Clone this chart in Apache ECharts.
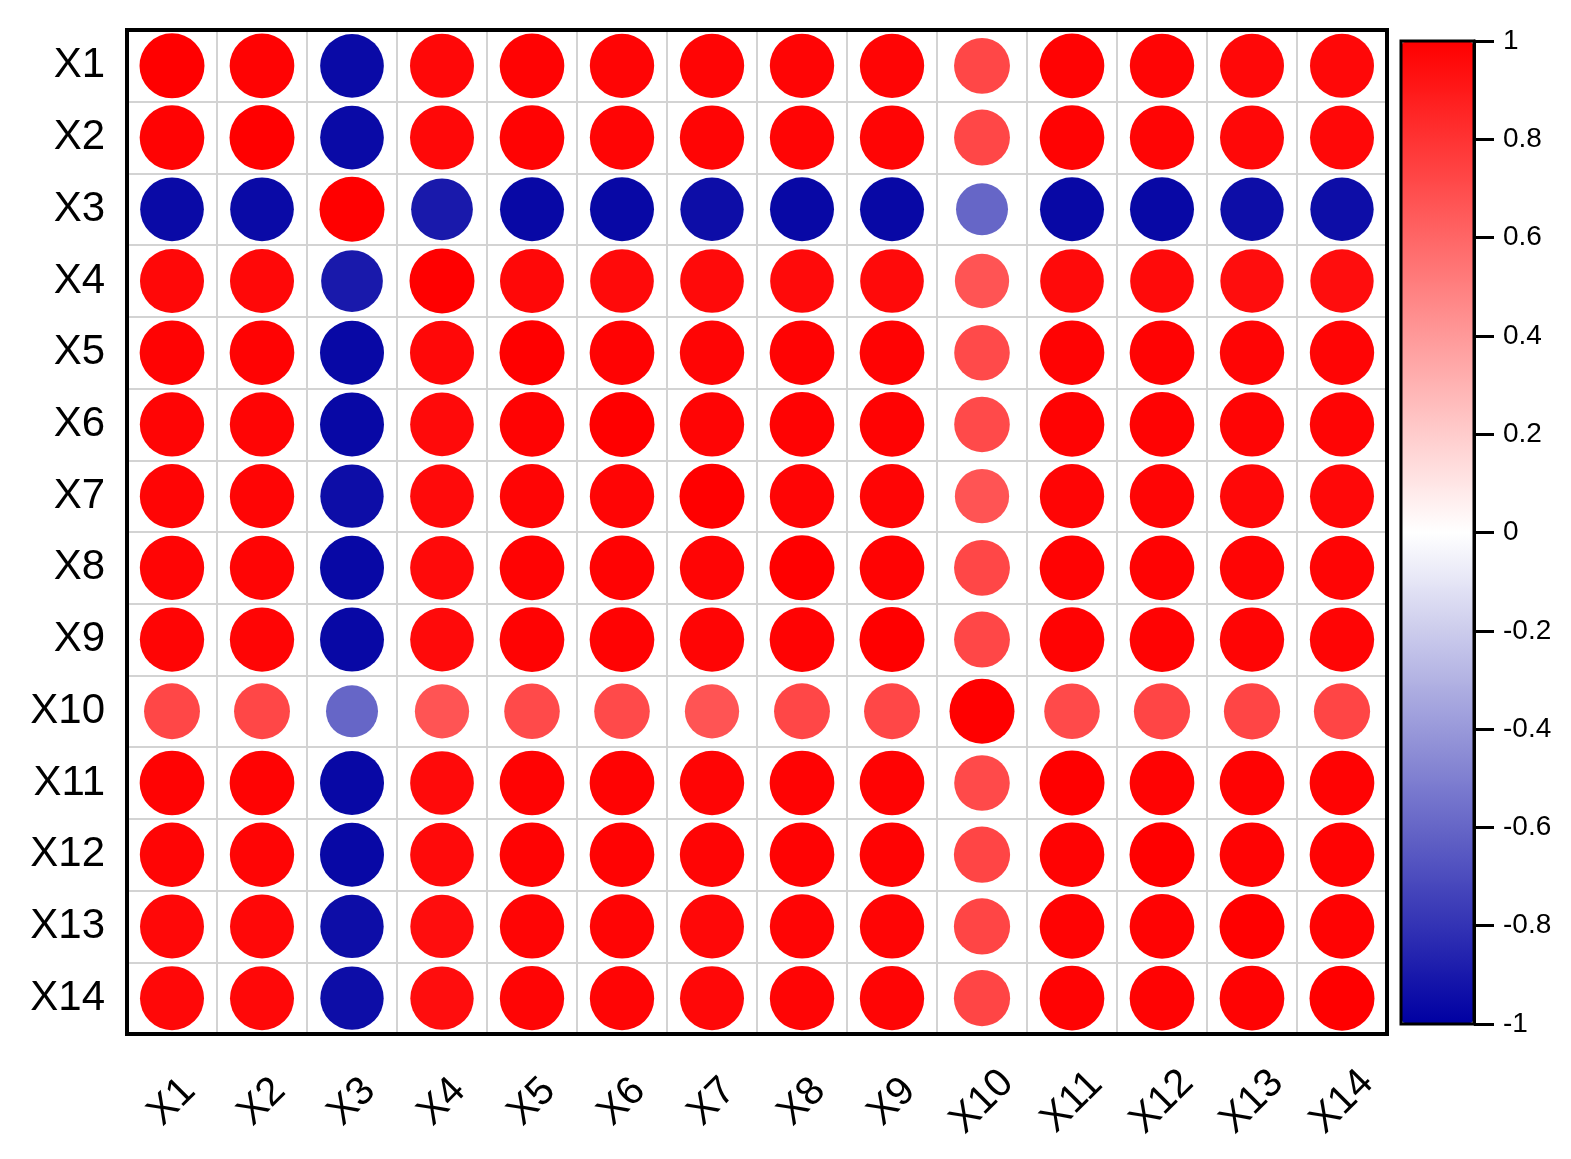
<!DOCTYPE html>
<html>
<head>
<meta charset="utf-8">
<script src="https://cdn.jsdelivr.net/npm/echarts@6/dist/echarts.min.js"></script>
<style>html,body{margin:0;padding:0;background:#fff;}#c{width:1571px;height:1159px;}</style>
</head>
<body>
<div id="c"></div>
<script>
const variables = ['X1','X2','X3','X4','X5','X6','X7','X8','X9','X10','X11','X12','X13','X14'];
const corr = [
  [ 1.00, 0.99,-0.96, 0.97, 0.99, 0.98, 0.98, 0.98, 0.98, 0.72, 0.99, 0.98, 0.97, 0.97],
  [ 0.99, 1.00,-0.96, 0.97, 0.99, 0.98, 0.98, 0.98, 0.98, 0.72, 0.99, 0.98, 0.97, 0.97],
  [-0.96,-0.96, 1.00,-0.90,-0.97,-0.97,-0.95,-0.97,-0.97,-0.60,-0.97,-0.97,-0.95,-0.95],
  [ 0.97, 0.97,-0.90, 1.00, 0.97, 0.96, 0.96, 0.96, 0.96, 0.67, 0.96, 0.96, 0.95, 0.95],
  [ 0.99, 0.99,-0.97, 0.97, 1.00, 0.99, 0.98, 0.99, 0.99, 0.71, 0.99, 0.99, 0.98, 0.98],
  [ 0.98, 0.98,-0.97, 0.96, 0.99, 1.00, 0.98, 0.99, 0.99, 0.71, 0.99, 0.99, 0.98, 0.98],
  [ 0.98, 0.98,-0.95, 0.96, 0.98, 0.98, 1.00, 0.98, 0.98, 0.67, 0.98, 0.98, 0.97, 0.97],
  [ 0.98, 0.98,-0.97, 0.96, 0.99, 0.99, 0.98, 1.00, 0.99, 0.72, 0.99, 0.99, 0.98, 0.98],
  [ 0.98, 0.98,-0.97, 0.96, 0.99, 0.99, 0.98, 0.99, 1.00, 0.72, 0.99, 0.99, 0.98, 0.98],
  [ 0.72, 0.72,-0.60, 0.67, 0.71, 0.71, 0.67, 0.72, 0.72, 1.00, 0.71, 0.73, 0.73, 0.73],
  [ 0.99, 0.99,-0.97, 0.96, 0.99, 0.99, 0.98, 0.99, 0.99, 0.71, 1.00, 0.99, 0.99, 0.99],
  [ 0.98, 0.98,-0.97, 0.96, 0.99, 0.99, 0.98, 0.99, 0.99, 0.73, 0.99, 1.00, 0.99, 0.99],
  [ 0.97, 0.97,-0.95, 0.95, 0.98, 0.98, 0.97, 0.98, 0.98, 0.73, 0.99, 0.99, 1.00, 0.99],
  [ 0.97, 0.97,-0.95, 0.95, 0.98, 0.98, 0.97, 0.98, 0.98, 0.73, 0.99, 0.99, 0.99, 1.00]
];
const colorbarTicks = [-1, -0.8, -0.6, -0.4, -0.2, 0, 0.2, 0.4, 0.6, 0.8, 1];

const points = [];
corr.forEach((row, yi) => row.forEach((v, xi) => points.push([xi, yi, v])));

const FONT = 'Arial, "Liberation Sans", sans-serif';
const chart = echarts.init(document.getElementById('c'), null, {renderer: 'canvas'});
chart.setOption({
  backgroundColor: '#fff',
  animation: false,
  grid: [
    {left: 127, top: 30, width: 1260, height: 1004, show: true, borderColor: '#000', borderWidth: 4, z: 10},
    {left: 1401, top: 41, width: 73, height: 983, show: true, borderColor: '#000', borderWidth: 3, z: 10}
  ],
  xAxis: [
    {type: 'category', gridIndex: 0, data: variables, position: 'bottom',
     axisLine: {show: false}, axisTick: {show: false},
     splitLine: {show: true, lineStyle: {color: '#d3d3d3', width: 2}},
     axisLabel: {rotate: 45, align: 'center', verticalAlign: 'middle', margin: 68,
                 fontSize: 40, color: '#000', fontFamily: FONT, interval: 0}},
    {type: 'value', gridIndex: 1, min: 0, max: 1, show: false}
  ],
  yAxis: [
    {type: 'category', gridIndex: 0, data: variables, inverse: true,
     axisLine: {show: false}, axisTick: {show: false},
     splitLine: {show: true, lineStyle: {color: '#d3d3d3', width: 2}},
     axisLabel: {fontSize: 42, color: '#000', margin: 22, fontFamily: FONT, interval: 0}},
    {type: 'value', gridIndex: 1, min: colorbarTicks[0], max: colorbarTicks[colorbarTicks.length-1],
     interval: 0.2, position: 'right', z: 12,
     axisLine: {show: true, onZero: false, lineStyle: {color: '#000', width: 3}},
     axisTick: {show: true, inside: false, length: 20, lineStyle: {color: '#000', width: 3}},
     splitLine: {show: false},
     axisLabel: {fontSize: 28, color: '#000', margin: 29, fontFamily: FONT,
                 formatter: v => String(Number(v.toFixed(1)))}}
  ],
  visualMap: {
    type: 'continuous', min: -1, max: 1, dimension: 2, seriesIndex: 0,
    calculable: false, left: 1402, top: 42, itemWidth: 71, itemHeight: 981,
    padding: 0, showLabel: false, text: null,
    inRange: {color: ['#0000a2', '#ffffff', '#ff0000']}
  },
  series: [{
    type: 'scatter', xAxisIndex: 0, yAxisIndex: 0,
    data: points,
    symbol: 'circle',
    symbolSize: d => 32.5 * (1 + Math.abs(d[2])),
    itemStyle: {opacity: 1}
  }]
});
</script>
</body>
</html>
